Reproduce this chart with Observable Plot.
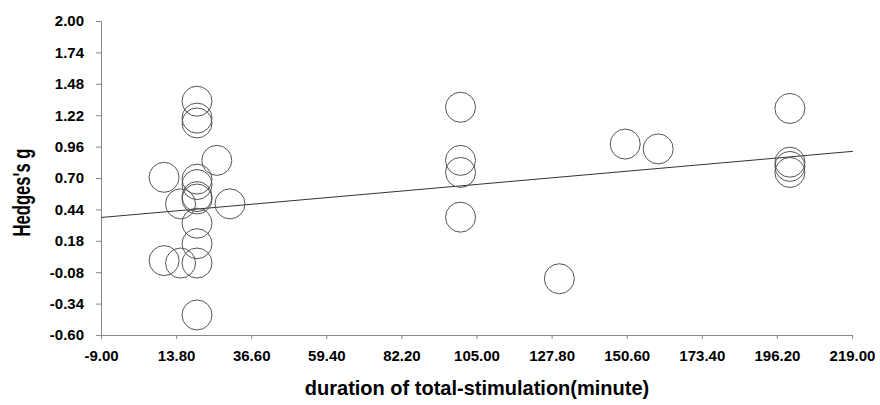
<!DOCTYPE html>
<html><head><meta charset="utf-8">
<script src="https://cdn.jsdelivr.net/npm/d3@7"></script>
<script src="https://cdn.jsdelivr.net/npm/@observablehq/plot@0.6"></script>
<style>body{margin:0;background:#fff;}</style>
</head><body><div id="chart"></div>
<script>
// Study points: duration of total stimulation (minutes) and Hedges's g
const duration = [20, 20, 20, 20, 20, 20, 20, 20, 20, 20, 20,
                  10, 15, 26, 30, 10, 15,
                  100, 100, 100, 100,
                  130, 150, 160,
                  200, 200, 200, 200];
const hedgesG  = [1.34, 1.20, 1.16, 0.695, 0.65, 0.55, 0.53, 0.33, 0.16, 0.00, -0.43,
                  0.71, 0.49, 0.85, 0.49, 0.02, 0.00,
                  1.29, 0.85, 0.75, 0.38,
                  -0.13, 0.985, 0.945,
                  1.28, 0.835, 0.80, 0.75];
const xTicks = [-9, 13.8, 36.6, 59.4, 82.2, 105, 127.8, 150.6, 173.4, 196.2, 219];
const yTicks = [-0.6, -0.34, -0.08, 0.18, 0.44, 0.70, 0.96, 1.22, 1.48, 1.74, 2.00];
const regIntercept = 0.399;
const regSlope = 0.0024;
const xLabel = "duration of total-stimulation(minute)";
const yLabel = "Hedges's g";

const points = duration.map((d, i) => ({duration: d, g: hedgesG[i]}));
const xEnds = [xTicks[0], xTicks[xTicks.length - 1]];
const regLine = xEnds.map(x => ({duration: x, g: regIntercept + regSlope * x}));
const fmt = d => d.toFixed(2);

const chart = Plot.plot({
  width: 880, height: 405,
  marginLeft: 101, marginRight: 28, marginTop: 21, marginBottom: 70,
  x: {domain: [xTicks[0], xTicks[xTicks.length - 1]]},
  y: {domain: [yTicks[0], yTicks[yTicks.length - 1]]},
  style: {fontFamily: "'Liberation Sans', Arial, sans-serif", fontWeight: "bold", background: "#fff", color: "#000"},
  marks: [
    Plot.axisX({ticks: xTicks, tickFormat: fmt, tickSize: 4, tickPadding: 10.5, stroke: "#888", fill: "#000", fontSize: 15, label: null}),
    Plot.axisY({ticks: yTicks, tickFormat: fmt, tickSize: 5, tickPadding: 12.5, stroke: "#888", fill: "#000", fontSize: 15, label: null}),
    Plot.ruleX([xTicks[0]], {stroke: "#888"}),
    Plot.ruleY([yTicks[0]], {stroke: "#888"}),
    Plot.line(regLine, {x: "duration", y: "g", stroke: "#333", strokeWidth: 1}),
    Plot.dot(points, {x: "duration", y: "g", r: 15, stroke: "#555", strokeWidth: 1, fill: "none"}),
    Plot.text([xLabel], {text: d => d, frameAnchor: "bottom", textAnchor: "middle", lineAnchor: "middle", dy: 53, fontSize: 20, fontWeight: "bold"}),
    Plot.text([yLabel], {text: d => d, frameAnchor: "left", textAnchor: "middle", lineAnchor: "middle", rotate: -90, dx: -79, dy: 14, fontSize: 23, fontWeight: "bold", className: "ytitle"})
  ]
});
document.getElementById("chart").appendChild(chart);
// the reference's y title is set in a condensed face
const yt = chart.querySelector(".ytitle text");
if (yt) { yt.setAttribute("textLength", 88); yt.setAttribute("lengthAdjust", "spacingAndGlyphs"); }
</script>
</body></html>
